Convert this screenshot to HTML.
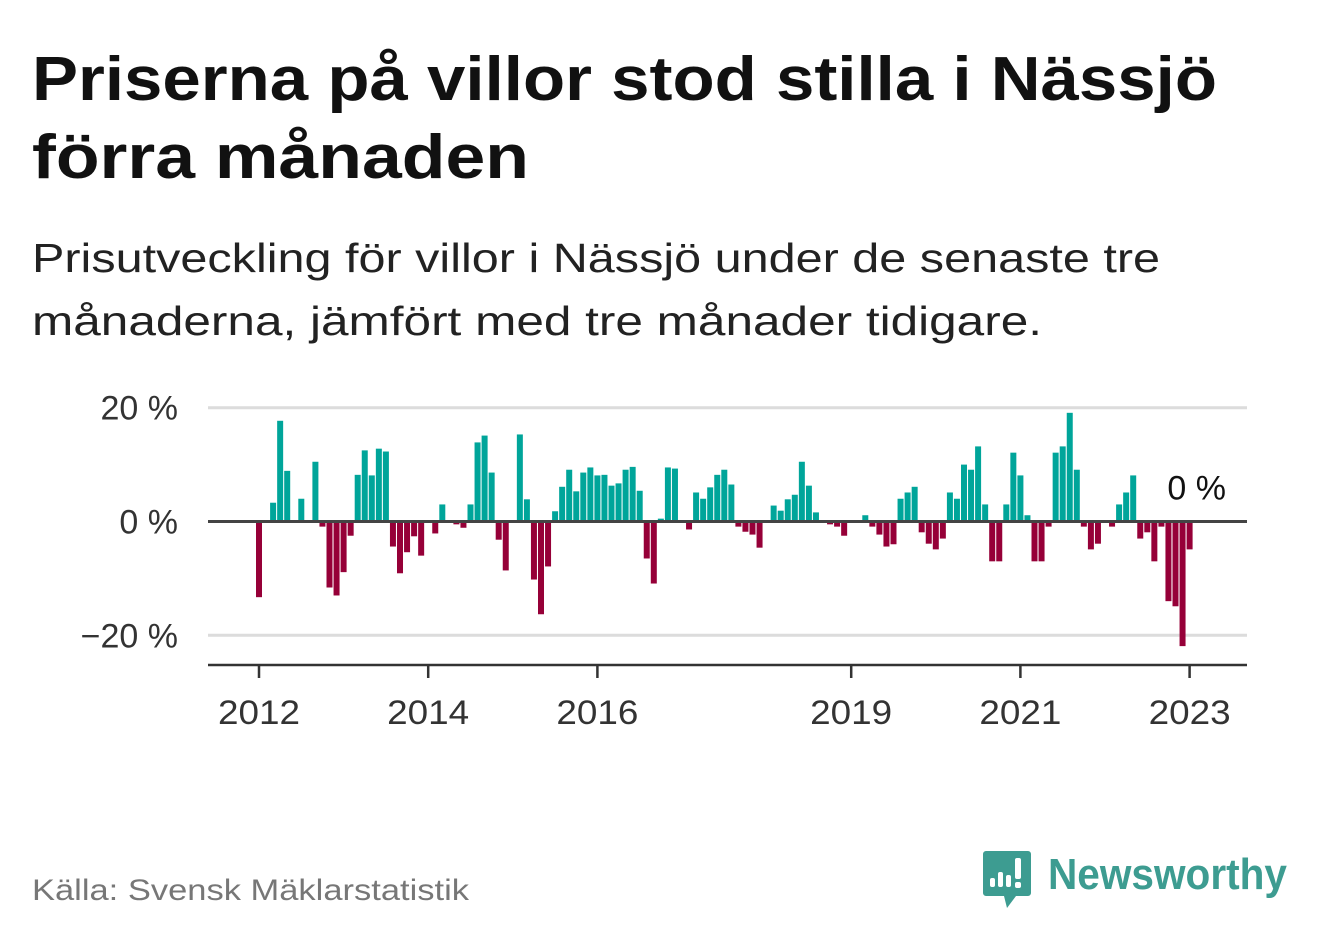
<!DOCTYPE html>
<html><head><meta charset="utf-8"><style>
html,body{margin:0;padding:0;background:#fff;}
svg{display:block;font-family:"Liberation Sans",sans-serif;}
</style></head><body>
<svg id="chart" width="1322" height="939" viewBox="0 0 1322 939">
<text x="32" y="100" font-size="62" font-weight="bold" fill="#111" textLength="1185" lengthAdjust="spacingAndGlyphs">Priserna på villor stod stilla i Nässjö</text>
<text x="32" y="178" font-size="62" font-weight="bold" fill="#111" textLength="497" lengthAdjust="spacingAndGlyphs">förra månaden</text>
<text x="32" y="272" font-size="41" fill="#222" textLength="1128" lengthAdjust="spacingAndGlyphs">Prisutveckling för villor i Nässjö under de senaste tre</text>
<text x="32" y="335" font-size="41" fill="#222" textLength="1010" lengthAdjust="spacingAndGlyphs">månaderna, jämfört med tre månader tidigare.</text>
<g id="plot"></g>
<text x="32" y="900" font-size="30" fill="#777" textLength="437" lengthAdjust="spacingAndGlyphs">Källa: Svensk Mäklarstatistik</text>
<g>
<path d="M986 851 h42 a3 3 0 0 1 3 3 v39 a3 3 0 0 1 -3 3 h-12 l-9 12 l-3 -12 h-18 a3 3 0 0 1 -3 -3 v-39 a3 3 0 0 1 3 -3z" fill="#3d9c91"/>
<rect x="990" y="878" width="5" height="9" rx="2" fill="#fff"/>
<rect x="998" y="872" width="5" height="15" rx="2" fill="#fff"/>
<rect x="1006" y="875" width="5" height="12" rx="2" fill="#fff"/>
<rect x="1015" y="858" width="6" height="21" rx="2" fill="#fff"/>
<rect x="1015" y="882" width="6" height="6" rx="2" fill="#fff"/>
<text x="1048" y="889" font-size="44" font-weight="bold" fill="#3d9c91" textLength="239" lengthAdjust="spacingAndGlyphs">Newsworthy</text>
</g>
</svg>
<script>
const values = [-13.3,0,3.3,17.7,8.9,0,4.0,0,10.5,-0.9,-11.6,-13.0,-8.9,-2.5,8.2,12.5,8.1,12.8,12.3,-4.4,-9.1,-5.4,-2.6,-6.0,0,-2.1,3.0,0,-0.5,-1.1,3.0,13.9,15.1,8.6,-3.2,-8.6,0,15.3,3.9,-10.2,-16.3,-7.9,1.8,6.1,9.1,5.3,8.6,9.5,8.1,8.2,6.3,6.7,9.1,9.6,5.4,-6.5,-10.9,0.5,9.5,9.3,0,-1.4,5.1,4.0,6.0,8.2,9.1,6.5,-0.9,-1.8,-2.3,-4.6,0,2.8,1.9,3.9,4.7,10.5,6.3,1.6,0,-0.5,-0.9,-2.5,0,0,1.1,-0.9,-2.3,-4.4,-4.0,4.0,5.1,6.1,-1.9,-3.9,-4.9,-3.0,5.1,4.0,10.0,9.1,13.2,3.0,-7.0,-7.0,3.0,12.1,8.1,1.1,-7.0,-7.0,-0.9,12.1,13.2,19.1,9.1,-0.9,-4.9,-3.9,0,-0.9,3.0,5.1,8.1,-3.0,-1.9,-7.0,-0.9,-14.0,-14.9,-21.9,-4.9,0];
const yTicks = [20,0,-20];
const yTickLabels = ["20 %","0 %","\u221220 %"];
const xTickYears = [2012,2014,2016,2019,2021,2023];
const startYear = 2012;
const lastLabel = "0 %";

const NS="http://www.w3.org/2000/svg";
const g=document.getElementById('plot');
const X0=208,X1=1247;
function xScale(i){return 259+7.05*i;}
function yScale(v){return 521.5-v*5.69;}
function yearX(y){return xScale((y-startYear)*12);}
function mk(tag,attrs){const e=document.createElementNS(NS,tag);for(const k in attrs)e.setAttribute(k,attrs[k]);g.appendChild(e);return e;}

yTicks.forEach((t,k)=>{
  if(t!==0){const l=mk('line',{x1:X0,x2:X1,y1:yScale(t),y2:yScale(t),stroke:'#dcdcdc','stroke-width':3});
  
  }
  const tx=mk('text',{x:178,y:yScale(t)+12,'text-anchor':'end','font-size':34,fill:'#333'});
  tx.textContent=yTickLabels[k];
  
  
});
values.forEach((v,i)=>{
  if(v===0)return;
  const y0=yScale(0),y1=yScale(v);
  const r=mk('rect',{x:xScale(i)-3,y:Math.min(y0,y1),width:6,height:Math.abs(y1-y0),fill:v>0?'#00a59a':'#960038'});
  
  
});
const z=mk('line',{x1:X0,x2:X1,y1:yScale(0),y2:yScale(0),stroke:'#444','stroke-width':3});


const ax=mk('line',{x1:X0,x2:X1,y1:665,y2:665,stroke:'#333','stroke-width':2.5});


xTickYears.forEach(yr=>{
  const x=yearX(yr);
  const t=mk('line',{x1:x,x2:x,y1:665,y2:678,stroke:'#333','stroke-width':2.5});
  
  
  const tx=mk('text',{x:x,y:724,'text-anchor':'middle','font-size':34,fill:'#333',textLength:82,lengthAdjust:'spacingAndGlyphs'});
  tx.textContent=yr;
  
  
});
const ll=mk('text',{x:xScale(values.length-1),y:yScale(values[values.length-1])-22,'text-anchor':'middle','font-size':34,fill:'#111'});
ll.textContent=lastLabel;


</script>
</body></html>
